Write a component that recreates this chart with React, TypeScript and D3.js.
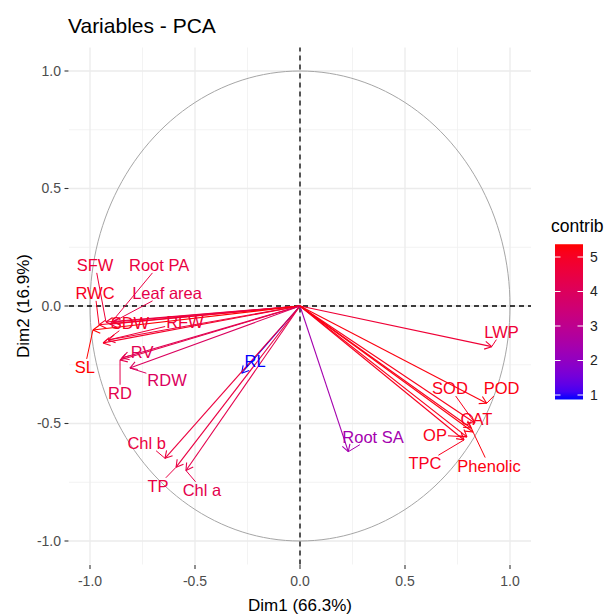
import React, { useEffect, useRef } from "react";
import * as d3 from "d3";

const variables = ["SFW", "Root PA", "RWC", "Leaf area", "SDW", "RFW", "RV", "SL", "RD", "RDW", "RL", "Chl b", "TP", "Chl a", "Root SA", "LWP", "SOD", "POD", "CAT", "OP", "TPC", "Phenolic"];
const dim1 = [-0.924, -0.905, -0.957, -0.89, -0.938, -0.914, -0.848, -0.986, -0.857, -0.81, -0.278, -0.643, -0.59, -0.543, 0.23, 0.913, 0.833, 0.889, 0.814, 0.795, 0.781, 0.824];
const dim2 = [-0.068, -0.077, -0.08, -0.068, -0.157, -0.145, -0.221, -0.102, -0.23, -0.264, -0.286, -0.648, -0.686, -0.7, -0.62, -0.173, -0.498, -0.414, -0.519, -0.557, -0.57, -0.536];
const contrib = [4.69, 4.5, 5.04, 4.35, 4.94, 4.68, 4.19, 5.37, 4.3, 3.96, 0.87, 4.55, 4.47, 4.29, 2.39, 4.72, 5.14, 5.25, 5.09, 5.14, 5.1, 5.28];
// repelled label positions (data units)
const labelX = [-0.976, -0.671, -0.976, -0.633, -0.81, -0.548, -0.752, -1.024, -0.857, -0.633, -0.214, -0.73, -0.676, -0.467, 0.348, 0.96, 0.714, 0.96, 0.84, 0.643, 0.595, 0.9];
const labelY = [0.174, 0.174, 0.055, 0.055, -0.072, -0.068, -0.196, -0.26, -0.37, -0.315, -0.234, -0.583, -0.766, -0.783, -0.557, -0.11, -0.35, -0.35, -0.48, -0.55, -0.67, -0.68];
const xTicks = [-1, -0.5, 0, 0.5, 1];
const yTicks = [-1, -0.5, 0, 0.5, 1];
const minorTicks = [-0.75, -0.25, 0.25, 0.75];
const legendTicks = [1, 2, 3, 4, 5];

export default function App() {
  const ref = useRef<SVGSVGElement>(null);
  useEffect(() => {
    const svg = d3.select(ref.current!);
    svg.selectAll("*").remove();
    const font = "'Liberation Sans', Arial, sans-serif";
    const x = d3.scaleLinear().domain([-1.1, 1.1]).range([69, 531]);
    const y = d3.scaleLinear().domain([-1.1, 1.1]).range([564.5, 47.5]);
    const ext = d3.extent(contrib) as [number, number];
    const color = d3.scaleLinear<string>().domain(ext).range(["blue", "red"]).interpolate(d3.interpolateLab);

    svg.append("rect").attr("width", 609).attr("height", 615).attr("fill", "white");

    const g = svg.append("g");
    // minor grid
    minorTicks.forEach((t) => {
      g.append("line").attr("x1", x(t)).attr("x2", x(t)).attr("y1", y(-1.1)).attr("y2", y(1.1)).attr("stroke", "#F0F0F0").attr("stroke-width", 0.8);
      g.append("line").attr("y1", y(t)).attr("y2", y(t)).attr("x1", x(-1.1)).attr("x2", x(1.1)).attr("stroke", "#F0F0F0").attr("stroke-width", 0.8);
    });
    xTicks.forEach((t) => {
      g.append("line").attr("x1", x(t)).attr("x2", x(t)).attr("y1", y(-1.1)).attr("y2", y(1.1)).attr("stroke", "#EBEBEB").attr("stroke-width", 1.3);
    });
    yTicks.forEach((t) => {
      g.append("line").attr("y1", y(t)).attr("y2", y(t)).attr("x1", x(-1.1)).attr("x2", x(1.1)).attr("stroke", "#EBEBEB").attr("stroke-width", 1.3);
    });

    // circle
    const circ = d3.range(0, 361, 2).map((a) => [Math.cos((a * Math.PI) / 180), Math.sin((a * Math.PI) / 180)] as [number, number]);
    g.append("path")
      .attr("d", d3.line<[number, number]>().x((d) => x(d[0])).y((d) => y(d[1]))(circ)!)
      .attr("fill", "none").attr("stroke", "#A6A6A6").attr("stroke-width", 1);

    // dashed axes
    g.append("line").attr("x1", x(-1.1)).attr("x2", x(1.1)).attr("y1", y(0)).attr("y2", y(0)).attr("stroke", "black").attr("stroke-width", 1.3).attr("stroke-dasharray", "5,4");
    g.append("line").attr("y1", y(-1.1)).attr("y2", y(1.1)).attr("x1", x(0)).attr("x2", x(0)).attr("stroke", "black").attr("stroke-width", 1.3).attr("stroke-dasharray", "5,4");

    // arrows
    const ox = x(0), oy = y(0);
    variables.forEach((v, i) => {
      const tx = x(dim1[i]), ty = y(dim2[i]);
      const c = color(contrib[i]);
      g.append("line").attr("x1", ox).attr("y1", oy).attr("x2", tx).attr("y2", ty).attr("stroke", c).attr("stroke-width", 1.1);
      const ang = Math.atan2(ty - oy, tx - ox);
      const L = 8;
      [Math.PI / 6, -Math.PI / 6].forEach((d) => {
        g.append("line").attr("x1", tx).attr("y1", ty)
          .attr("x2", tx - L * Math.cos(ang + d)).attr("y2", ty - L * Math.sin(ang + d))
          .attr("stroke", c).attr("stroke-width", 1.1);
      });
    });

    // labels + leader segments
    const segG = g.append("g");
    variables.forEach((v, i) => {
      const lx = x(labelX[i]), ly = y(labelY[i]);
      const c = color(contrib[i]);
      const t = g.append("text").attr("x", lx).attr("y", ly).attr("dy", "0.35em")
        .attr("text-anchor", "middle").attr("font-family", font).attr("font-size", 16.5).attr("fill", c).text(v);
      const bb = (t.node() as SVGTextElement).getBBox();
      const tx = x(dim1[i]), ty = y(dim2[i]);
      const cx = bb.x + bb.width / 2, cy = bb.y + bb.height / 2;
      const hw = bb.width / 2 + 1, hh = bb.height / 2 - 1;
      const dx = tx - cx, dy = ty - cy;
      if (Math.abs(dx) <= hw && Math.abs(dy) <= hh) return;
      const s = Math.min(Math.abs(dx) > 0 ? hw / Math.abs(dx) : Infinity, Math.abs(dy) > 0 ? hh / Math.abs(dy) : Infinity);
      const ex = cx + dx * s, ey = cy + dy * s;
      const len = Math.hypot(tx - ex, ty - ey);
      if (len > 7) {
        segG.append("line").attr("x1", ex).attr("y1", ey).attr("x2", tx).attr("y2", ty).attr("stroke", c).attr("stroke-width", 1);
      }
    });

    // axis ticks and labels
    xTicks.forEach((t) => {
      svg.append("line").attr("x1", x(t)).attr("x2", x(t)).attr("y1", 565).attr("y2", 569).attr("stroke", "#333").attr("stroke-width", 1.1);
      svg.append("text").attr("x", x(t)).attr("y", 586).attr("text-anchor", "middle").attr("font-family", font).attr("font-size", 14).attr("fill", "#4D4D4D").text(d3.format(".1f")(t).replace("−", "-"));
    });
    yTicks.forEach((t) => {
      svg.append("line").attr("x1", 64.5).attr("x2", 68.5).attr("y1", y(t)).attr("y2", y(t)).attr("stroke", "#333").attr("stroke-width", 1.1);
      svg.append("text").attr("x", 61).attr("y", y(t)).attr("dy", "0.35em").attr("text-anchor", "end").attr("font-family", font).attr("font-size", 14).attr("fill", "#4D4D4D").text(d3.format(".1f")(t).replace("−", "-"));
    });

    // axis titles
    svg.append("text").attr("x", 300).attr("y", 611).attr("text-anchor", "middle").attr("font-family", font).attr("font-size", 17).attr("fill", "black").text("Dim1 (66.3%)");
    svg.append("text").attr("transform", "translate(29,306) rotate(-90)").attr("text-anchor", "middle").attr("font-family", font).attr("font-size", 17).attr("fill", "black").text("Dim2 (16.9%)");

    // title
    svg.append("text").attr("x", 68).attr("y", 33).attr("font-family", font).attr("font-size", 21).attr("fill", "black").text("Variables - PCA");

    // legend
    const ly = d3.scaleLinear().domain([1, 5]).range([395, 257]);
    const defs = svg.append("defs");
    const grad = defs.append("linearGradient").attr("id", "cgrad").attr("x1", 0).attr("x2", 0).attr("y1", 1).attr("y2", 0);
    d3.range(0, 1.0001, 0.05).forEach((p) => {
      grad.append("stop").attr("offset", p).attr("stop-color", color(ext[0] + p * (ext[1] - ext[0])));
    });
    const bx = 555, bw = 28;
    svg.append("rect").attr("x", bx).attr("width", bw).attr("y", ly(ext[1])).attr("height", ly(ext[0]) - ly(ext[1])).attr("fill", "url(#cgrad)");
    legendTicks.forEach((t) => {
      svg.append("line").attr("x1", bx).attr("x2", bx + 5.5).attr("y1", ly(t)).attr("y2", ly(t)).attr("stroke", "white").attr("stroke-width", 1);
      svg.append("line").attr("x1", bx + bw - 5.5).attr("x2", bx + bw).attr("y1", ly(t)).attr("y2", ly(t)).attr("stroke", "white").attr("stroke-width", 1);
      svg.append("text").attr("x", 590).attr("y", ly(t)).attr("dy", "0.35em").attr("font-family", font).attr("font-size", 14).attr("fill", "#222").text(String(t));
    });
    svg.append("text").attr("x", 551).attr("y", 232).attr("font-family", font).attr("font-size", 17.5).attr("fill", "black").text("contrib");
  }, []);
  return <svg ref={ref} width={609} height={615} style={{ position: "absolute", left: 0, top: 0, display: "block" }} />;
}
